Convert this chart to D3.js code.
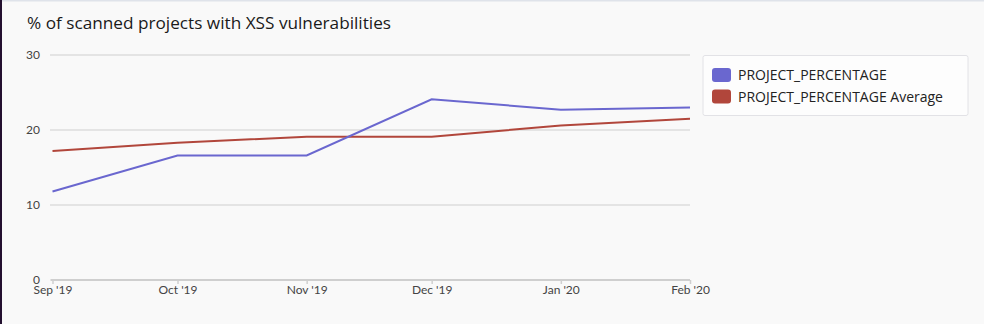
<!DOCTYPE html>
<html><head><meta charset="utf-8">
<script src="https://cdn.jsdelivr.net/npm/d3@7"></script>
<style>
html,body{margin:0;padding:0;background:#f9f9f9;}
svg{display:block;}
</style></head>
<body>
<script>
const months = ["2019-09-01","2019-10-01","2019-11-01","2019-12-01","2020-01-01","2020-02-01"];
const tickLabels = ["Sep '19","Oct '19","Nov '19","Dec '19","Jan '20","Feb '20"];
const projectPct = [11.8, 16.6, 16.6, 24.1, 22.7, 23.0];
const projectAvg = [17.2, 18.3, 19.1, 19.1, 20.6, 21.5];
const yTicks = [0, 10, 20, 30];
const seriesNames = ["PROJECT_PERCENTAGE", "PROJECT_PERCENTAGE Average"];
const colors = ["#6a67cf", "#b1463b"];
const title = "% of scanned projects with XSS vulnerabilities";

const W = 984, H = 324;
const font = "Lato, 'Open Sans', sans-serif";
const font2 = "'Open Sans', Lato, sans-serif";
const svg = d3.select("body").append("svg").attr("width", W).attr("height", H);
svg.append("rect").attr("width", W).attr("height", H).attr("fill", "#f9f9f9");
svg.append("rect").attr("x", 0).attr("y", 0).attr("width", W).attr("height", 1.5).attr("fill", "#dfe3ea");
svg.append("rect").attr("x", 0).attr("y", 0).attr("width", 2).attr("height", H).attr("fill", "#23102f");

svg.append("text").attr("x", 27).attr("y", 29).attr("font-family", font2)
  .attr("font-size", 16).attr("fill", "#1a1a1a").attr("textLength", 364).attr("lengthAdjust", "spacingAndGlyphs").text(title);

const parse = d3.timeParse("%Y-%m-%d");
const dates = months.map(parse);
const x = d3.scaleTime().domain([dates[0], dates[dates.length-1]]).range([52.5, 690]);
const y = d3.scaleLinear().domain([0, 30]).range([280, 55]);

// grid
const grid = svg.append("g");
grid.selectAll("line").data(yTicks.filter(d => d > 0)).join("line")
  .attr("x1", 50).attr("x2", 690).attr("y1", d => y(d)).attr("y2", d => y(d))
  .attr("stroke", "#cfcfcf").attr("stroke-width", 1.2);

// y labels
const yAxis = d3.axisLeft(y).tickValues(yTicks).tickSize(0).tickPadding(0);
const yg = svg.append("g").attr("transform", "translate(40,0)").call(yAxis);
yg.select(".domain").remove();
yg.selectAll("text").attr("font-family", font).attr("font-size", 12).attr("fill", "#444");

// x axis
const xAxis = d3.axisBottom(x).tickValues(dates).tickFormat((d, i) => tickLabels[i]).tickSize(4).tickPadding(1);
const xg = svg.append("g").attr("transform", `translate(0,${y(0)})`).call(xAxis);
xg.select(".domain").attr("d", `M${x(dates[0])-2},0H${x(dates[dates.length-1])}`).attr("stroke", "#cfcfcf").attr("stroke-width", 2);
xg.selectAll(".tick line").attr("stroke", "#cfcfcf").attr("stroke-width", 1.5);
xg.selectAll("text").attr("font-family", font).attr("font-size", 12).attr("fill", "#444");

// lines
const line = d3.line().x((d, i) => x(dates[i])).y(d => y(d));
[[projectAvg, 1], [projectPct, 0]].forEach(([s, idx]) => {
  svg.append("path").datum(s).attr("d", line).attr("fill", "none")
    .attr("stroke", colors[idx]).attr("stroke-width", 2);
});

// legend
const lg = svg.append("g");
lg.append("rect").attr("x", 703).attr("y", 55.5).attr("width", 265).attr("height", 60).attr("rx", 2)
  .attr("fill", "#fdfdfd").attr("stroke", "#e2e2e6");
seriesNames.forEach((n, i) => {
  lg.append("rect").attr("x", 712).attr("y", 68 + i*21.5).attr("width", 19).attr("height", 14).attr("rx", 3)
    .attr("fill", colors[i]);
  lg.append("text").attr("x", 738).attr("y", 80 + i*21.5).attr("font-family", font2)
    .attr("font-size", 14).attr("fill", "#222").text(n);
});
</script>
</body></html>
